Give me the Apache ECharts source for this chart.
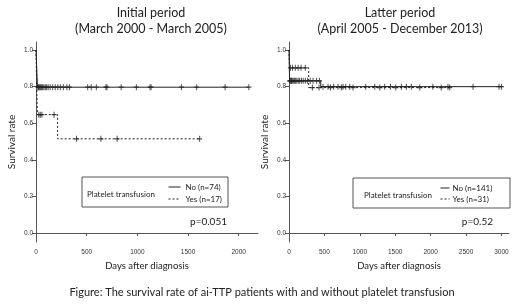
<!DOCTYPE html>
<html lang="en">
<head>
  <meta charset="UTF-8">
  <title>Survival rate</title>
  <script src="https://cdn.jsdelivr.net/npm/echarts@6/dist/echarts.min.js"></script>
</head>
<body style="margin:0">
  <div id="app" style="width: 520px; height: 304px;"></div>
  <script>
    // Initial period (left panel)
    var noDaysA = [0, 1, 2, 3, 4, 5, 6, 7, 8, 9, 10, 11, 12, 13, 14, 15, 2101]
    var noSurvA = [1, 0.986, 0.973, 0.959, 0.946, 0.932, 0.919, 0.905, 0.892, 0.878, 0.865, 0.851, 0.838, 0.824, 0.811, 0.797, 0.797]
    var noCensA = [18, 25, 32, 40, 48, 56, 66, 78, 92, 105, 120, 140, 165, 190, 215, 240, 270, 305, 330, 510, 545, 595, 690, 700, 840, 990, 1125, 1135, 1435, 1585, 1865, 2100]
    var yesDaysA = [0, 2, 4, 6, 8, 11, 14, 213, 1615]
    var yesSurvA = [1, 0.941, 0.882, 0.824, 0.765, 0.706, 0.647, 0.515, 0.515]
    var yesCensA = [28, 42, 58, 178, 400, 640, 800, 1614]

    // Latter period (right panel)
    var noDaysB = [0, 1, 2, 3, 4, 5, 6, 7, 8, 448, 3018]
    var noSurvB = [1, 0.979, 0.957, 0.936, 0.915, 0.894, 0.872, 0.858, 0.832, 0.80, 0.80]
    var noCensB = [10, 16, 25, 35, 45, 60, 75, 90, 110, 130, 150, 175, 200, 230, 260, 300, 340, 390, 430,
      480, 551, 631, 692, 763, 801, 857, 1083, 1211, 1352, 1432, 1587, 1658, 1728, 2032, 2245, 2599, 2966, 3000]
    var yesDaysB = [0, 2, 5, 9, 278, 2270]
    var yesSurvB = [1, 0.968, 0.935, 0.903, 0.795, 0.795]
    var yesCensB = [20, 50, 90, 130, 170, 230, 330, 424, 585, 740, 904, 1282, 1507, 1846, 2150, 2270]

    var yTicks = [0, 0.2, 0.4, 0.6, 0.8, 1.0]
    var xTicksA = [0, 500, 1000, 1500, 2000]
    var xTicksB = [0, 500, 1000, 1500, 2000, 2500, 3000]

    var font = 'Lato'
    var ink = '#222'

    function curve(days, surv) {
      var out = []
      for (var i = 0; i < days.length; i++) out.push([days[i], surv[i]])
      return out
    }
    // censor marks sit on the curve at their day
    function marks(cens, days, surv) {
      var out = []
      for (var i = 0; i < cens.length; i++) {
        var s = surv[0]
        for (var j = 0; j < days.length; j++) {
          if (days[j] <= cens[i]) s = surv[j]
        }
        out.push([cens[i], s])
      }
      return out
    }

    function yAxis(idx, gap) {
      return {
        gridIndex: idx, type: 'value', min: -0.049, max: 1.044,
        name: 'Survival rate', nameLocation: 'middle', nameGap: gap,
        nameTextStyle: { fontFamily: font, fontSize: 10, color: ink },
        axisLine: { show: true, lineStyle: { color: '#555' } },
        axisTick: { show: true, length: 4, customValues: yTicks, lineStyle: { color: '#555' } },
        axisLabel: { customValues: yTicks, formatter: function (v) { return v.toFixed(1) },
          fontSize: 6.5, color: '#333', margin: 3, fontFamily: 'Liberation Sans' },
        splitLine: { show: false }
      }
    }
    function xAxis(idx, max, ticks) {
      return {
        gridIndex: idx, type: 'value', min: 0, max: max,
        name: 'Days after diagnosis', nameLocation: 'middle', nameGap: 19,
        nameTextStyle: { fontFamily: font, fontSize: 9.5, color: ink },
        axisLine: { show: true, lineStyle: { color: '#555' } },
        axisTick: { show: true, length: 3, customValues: ticks, lineStyle: { color: '#555' } },
        axisLabel: { customValues: ticks, formatter: function (v) { return String(v) },
          fontSize: 6.5, color: '#333', margin: 7, fontFamily: 'Liberation Sans' },
        splitLine: { show: false }
      }
    }

    var plus = 'path://M2,0h1v2h2v1h-2v2h-1v-2h-2v-1h2z'

    function lineSeries(name, idx, data, dashed) {
      return {
        name: name, type: 'line', step: 'end', xAxisIndex: idx, yAxisIndex: idx,
        data: data, symbol: 'none', animation: false,
        lineStyle: { color: ink, width: 1, type: dashed ? [2, 2] : 'solid' },
        itemStyle: { color: ink }
      }
    }
    function censSeries(idx, data) {
      return {
        type: 'scatter', xAxisIndex: idx, yAxisIndex: idx, data: data,
        symbol: plus, symbolSize: [5, 6], itemStyle: { color: ink }, animation: false
      }
    }

    function txt(x, y, s, size, align) {
      return { type: 'text', x: x, y: y, style: { text: s, fontFamily: font, fontSize: size,
        fill: ink, align: align || 'left', verticalAlign: 'middle' } }
    }

    var mCharts = echarts.init(document.querySelector('#app'))
    var option = {
      grid: [
        { left: 36, top: 42, width: 222, height: 200 },
        { left: 289, top: 42, width: 220, height: 200 }
      ],
      xAxis: [xAxis(0, 2190, xTicksA), xAxis(1, 3107, xTicksB)],
      yAxis: [yAxis(0, 19), yAxis(1, 19)],
      legend: [
        { data: ['No (n=74)', 'Yes (n=17)'], orient: 'vertical', left: 168, top: 183,
          itemWidth: 12, itemHeight: 8, itemGap: 4, padding: 0,
          itemStyle: { opacity: 0 }, lineStyle: { width: 1 },
          textStyle: { fontFamily: font, fontSize: 8, color: ink } },
        { data: ['No (n=141)', 'Yes (n=31)'], orient: 'vertical', left: 440, top: 184,
          itemWidth: 9, itemHeight: 8, itemGap: 3, padding: 0,
          itemStyle: { opacity: 0 }, lineStyle: { width: 1 },
          textStyle: { fontFamily: font, fontSize: 8, color: ink, padding: [0, 0, 0, -2] } }
      ],
      graphic: [
        txt(151, 13, 'Initial period', 12.5, 'center'),
        txt(151, 29, '(March 2000 - March 2005)', 12.5, 'center'),
        txt(400, 13, 'Latter period', 12.5, 'center'),
        txt(400, 29, '(April 2005 - December 2013)', 12.5, 'center'),
        { type: 'rect', shape: { x: 82, y: 177, width: 146, height: 30 },
          style: { fill: 'none', stroke: '#555', lineWidth: 1 } },
        { type: 'rect', shape: { x: 353, y: 178, width: 157, height: 30 },
          style: { fill: 'none', stroke: '#555', lineWidth: 1 } },
        txt(87, 194, 'Platelet transfusion', 8),
        txt(364, 195, 'Platelet transfusion', 8),
        txt(227, 222, 'p=0.051', 10, 'right'),
        txt(493, 222, 'p=0.52', 10, 'right'),
        txt(262, 292, 'Figure: The survival rate of ai-TTP patients with and without platelet transfusion', 11, 'center')
      ],
      series: [
        lineSeries('No (n=74)', 0, curve(noDaysA, noSurvA), false),
        lineSeries('Yes (n=17)', 0, curve(yesDaysA, yesSurvA), true),
        censSeries(0, marks(noCensA, noDaysA, noSurvA)),
        censSeries(0, marks(yesCensA, yesDaysA, yesSurvA)),
        lineSeries('No (n=141)', 1, curve(noDaysB, noSurvB), false),
        lineSeries('Yes (n=31)', 1, curve(yesDaysB, yesSurvB), true),
        censSeries(1, marks(noCensB, noDaysB, noSurvB)),
        censSeries(1, marks(yesCensB, yesDaysB, yesSurvB))
      ]
    }
    mCharts.setOption(option)
  </script>
</body>
</html>
